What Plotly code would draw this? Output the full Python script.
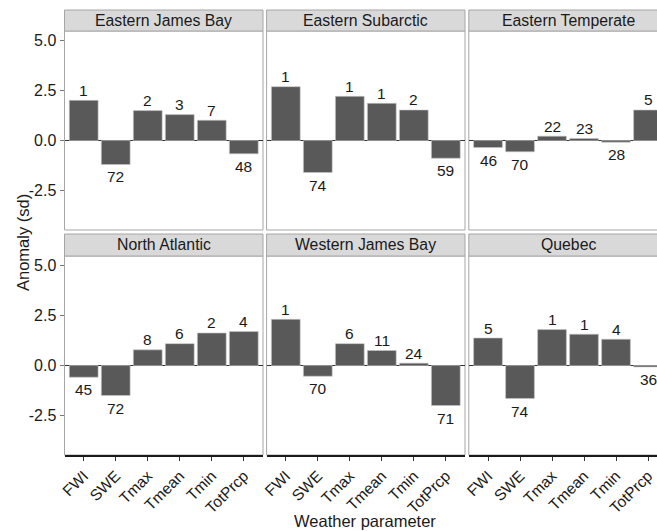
import plotly.graph_objects as go

categories = ["FWI", "SWE", "Tmax", "Tmean", "Tmin", "TotPrcp"]
regions = ["Eastern James Bay", "Eastern Subarctic", "Eastern Temperate",
           "North Atlantic", "Western James Bay", "Quebec"]

eastern_james_bay = [2.00, -1.19, 1.49, 1.29, 1.01, -0.66]
eastern_subarctic = [2.68, -1.59, 2.20, 1.85, 1.52, -0.88]
eastern_temperate = [-0.35, -0.56, 0.22, 0.10, -0.08, 1.52]
north_atlantic = [-0.58, -1.49, 0.78, 1.09, 1.62, 1.69]
western_james_bay = [2.30, -0.53, 1.09, 0.75, 0.12, -1.99]
quebec = [1.37, -1.64, 1.79, 1.56, 1.31, -0.07]

ranks_ejb = [1, 72, 2, 3, 7, 48]
ranks_esa = [1, 74, 1, 1, 2, 59]
ranks_ete = [46, 70, 22, 23, 28, 5]
ranks_nat = [45, 72, 8, 6, 2, 4]
ranks_wjb = [1, 70, 6, 11, 24, 71]
ranks_qc = [5, 74, 1, 1, 4, 36]

y_ticks = [-2.5, 0.0, 2.5, 5.0]
y_tick_text = ["-2.5", "0.0", "2.5", "5.0"]

values = [eastern_james_bay, eastern_subarctic, eastern_temperate,
          north_atlantic, western_james_bay, quebec]
ranks = [ranks_ejb, ranks_esa, ranks_ete, ranks_nat, ranks_wjb, ranks_qc]

W, H = 657, 531
FONT = "Liberation Sans, Arial, sans-serif"
col_px = [(64.5, 263.0), (266.6, 465.0), (468.8, 667.2)]
row_px = [(31.0, 230.0), (256.0, 455.0)]
strip_px = [(10.0, 31.0), (234.0, 256.0)]

fig = go.Figure()
shapes = []
annotations = []

for i, reg in enumerate(regions):
    r, c = divmod(i, 3)
    ax = "" if i == 0 else str(i + 1)
    xd = [col_px[c][0] / W, min(col_px[c][1] / W, 1.0)]
    yd = [1 - row_px[r][1] / H, 1 - row_px[r][0] / H]
    fig.add_trace(go.Bar(
        x=categories, y=values[i], xaxis="x" + ax, yaxis="y" + ax,
        marker=dict(color="#595959", line=dict(color="#c8c8c8", width=0.6)),
        showlegend=False, hoverinfo="x+y"))
    # clip right-most column like the reference
    xmax = 5.6 if c < 2 else -0.6 + (W - col_px[c][0]) / 32.0
    fig.layout["xaxis" + ax] = dict(
        domain=xd, anchor="y" + ax, range=[-0.6, xmax], type="category",
        showgrid=False, zeroline=False, automargin=False,
        showticklabels=(r == 1), ticks="outside" if r == 1 else "",
        ticklen=4, tickcolor="#333333", tickangle=-45,
        tickfont=dict(family=FONT, size=15.5, color="#1a1a1a"),
        showline=(r == 1), linecolor="#1a1a1a", linewidth=1.6)
    fig.layout["yaxis" + ax] = dict(
        domain=yd, anchor="x" + ax, range=[-4.45, 5.45], automargin=False,
        showgrid=False, zeroline=True, zerolinecolor="#333333", zerolinewidth=1.3,
        tickvals=y_ticks, ticktext=y_tick_text,
        showticklabels=(c == 0), ticks="outside" if c == 0 else "",
        ticklen=4, tickcolor="#777777",
        tickfont=dict(family=FONT, size=16, color="#1a1a1a"),
        showline=False)
    # panel border
    x0p = col_px[c][0] / W
    x1p = col_px[c][1] / W
    shapes.append(dict(type="rect", xref="paper", yref="paper",
                       x0=x0p, x1=x1p, y0=yd[0], y1=yd[1],
                       line=dict(color="#a6a6a6", width=1), layer="below"))
    # strip
    sy0 = 1 - strip_px[r][1] / H
    sy1 = 1 - strip_px[r][0] / H
    shapes.append(dict(type="rect", xref="paper", yref="paper",
                       x0=x0p, x1=x1p, y0=sy0, y1=sy1,
                       fillcolor="#d9d9d9", line=dict(color="#a6a6a6", width=1),
                       layer="below"))
    annotations.append(dict(text=reg, xref="paper", yref="paper",
                            x=(col_px[c][0] + col_px[c][1]) / 2 / W,
                            y=(sy0 + sy1) / 2, xanchor="center", yanchor="middle",
                            showarrow=False,
                            font=dict(family=FONT, size=15.8, color="#1a1a1a")))
    # bar labels
    for cat, v, rk in zip(categories, values[i], ranks[i]):
        annotations.append(dict(text=str(rk), xref="x" + ax, yref="y" + ax,
                                x=cat, y=v, showarrow=False,
                                xanchor="center", yanchor="middle",
                                yshift=10 if v >= 0 else -12.5,
                                font=dict(family=FONT, size=15.5, color="#1a1a1a")))

annotations.append(dict(text="Anomaly (sd)", xref="paper", yref="paper",
                        x=23 / W, y=1 - 243 / H, textangle=-90, showarrow=False,
                        xanchor="center", yanchor="middle",
                        font=dict(family=FONT, size=16.5, color="#1a1a1a")))
annotations.append(dict(text="Weather parameter", xref="paper", yref="paper",
                        x=365 / W, y=1 - 521 / H, showarrow=False,
                        xanchor="center", yanchor="middle",
                        font=dict(family=FONT, size=16.5, color="#1a1a1a")))

fig.update_layout(width=W, height=H, margin=dict(l=0, r=0, t=0, b=0, autoexpand=False),
                  paper_bgcolor="white", plot_bgcolor="white",
                  bargap=0.1, shapes=shapes, annotations=annotations,
                  font=dict(family=FONT))

fig.write_html("out.html", config={"displayModeBar": False},
               post_script="document.body.style.margin='0';"
                           "document.body.style.overflow='hidden';")
